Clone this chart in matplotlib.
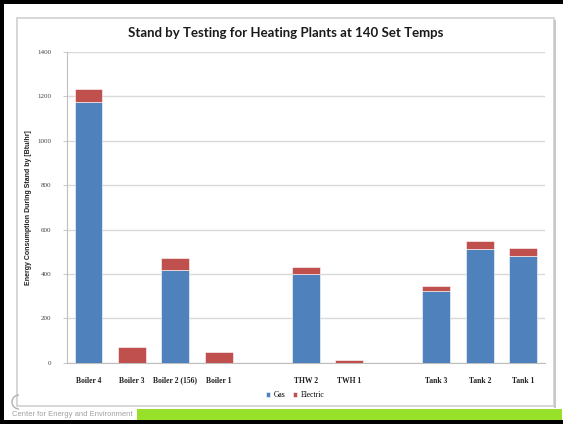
import numpy as np
import matplotlib
matplotlib.use("Agg")
import matplotlib.pyplot as plt
from matplotlib.patches import Rectangle, Arc

# Data
categories = ["Boiler 4", "Boiler 3", "Boiler 2 (156)", "Boiler 1", "",
              "THW 2", "TWH 1", "", "Tank 3", "Tank 2", "Tank 1"]
gas = [1174, 0, 418, 0, 0, 400, 0, 0, 324, 513, 480]
electric = [58, 70, 54, 50, 0, 30, 13, 0, 20, 36, 38]
y_ticks = [0, 200, 400, 600, 800, 1000, 1200, 1400]

title = "Stand by Testing for Heating Plants at 140 Set Temps"
ylabel = "Energy Consumption During Stand by [Btu/hr]"
footer = "Center for Energy and Environment"

gas_color = "#4F81BD"
elec_color = "#C0504D"

fig = plt.figure(figsize=(5.63, 4.24), dpi=100)
fig.patch.set_facecolor("white")

# slide frame: black border pieces, inner chart box, green footer bar
W, H = 563, 424
def px(x, y, w, h):
    return (x / W, 1 - (y + h) / H, w / W, h / H)

for (x, y, w, h), c in [
    ((0, 0, 563, 4), "black"),
    ((0, 0, 4, 424), "black"),
    ((0, 420, 563, 4), "black"),
    ((137, 409, 425, 11), "#97E12B"),
]:
    fx, fy, fw, fh = px(x, y, w, h)
    fig.patches.append(Rectangle((fx, fy), fw, fh, transform=fig.transFigure,
                                 facecolor=c, edgecolor="none", zorder=-2))

fx, fy, fw, fh = px(17, 18, 537, 388)
fig.patches.append(Rectangle((fx, fy), fw, fh, transform=fig.transFigure,
                             facecolor="white", edgecolor="#D0D0D0",
                             linewidth=1.2, zorder=-2))
fx, fy, fw, fh = px(554, 20, 2, 388)
fig.patches.append(Rectangle((fx, fy), fw, fh, transform=fig.transFigure,
                             facecolor="#C8C8C8", edgecolor="none", zorder=-2))

# logo fragment
fig.patches.append(Arc((19 / W, 1 - 402 / H), 14 / W, 14 / H, theta1=90, theta2=270,
                       transform=fig.transFigure, color="#B0B0B0", linewidth=1.0,
                       zorder=-1))

fig.text(12 / W, 1 - 414 / H, footer, fontsize=5.5, color="#A0A0A0",
         family="Liberation Sans", va="center", ha="left")

ax = fig.add_axes([66.7 / W, 1 - 362.7 / H, (545 - 66.7) / W, (362.7 - 52) / H])
ax.set_facecolor("none")
x = np.arange(len(categories))
width = 0.64
ax.bar(x, gas, width, color=gas_color, edgecolor="white", linewidth=0.4,
       label="Gas", zorder=3)
ax.bar(x, electric, width, bottom=gas, color=elec_color, edgecolor="white",
       linewidth=0.4, label="Electric", zorder=3)

ax.set_xlim(-0.5, len(categories) - 0.5)
ax.set_ylim(0, 1400)
ax.set_yticks(y_ticks)
ax.set_yticklabels([str(t) for t in y_ticks], fontsize=5, family="Liberation Serif",
                   color="#404040")
ax.set_xticks(x)
ax.set_xticklabels(categories, fontsize=5.5, family="Liberation Serif",
                   fontweight="bold", color="#202020")
ax.tick_params(axis="x", length=0, pad=10)
ax.tick_params(axis="y", length=3, width=0.6, color="#BFBFBF", pad=8)
ax.grid(axis="y", color="#D9D9D9", linewidth=1.0, zorder=0)
for s in ["top", "right"]:
    ax.spines[s].set_visible(False)
ax.spines["left"].set_color("#BFBFBF")
ax.spines["bottom"].set_color("#BFBFBF")
ax.spines["left"].set_linewidth(0.8)
ax.spines["bottom"].set_linewidth(0.8)

ax.set_ylabel(ylabel, fontsize=5, fontweight="bold", family="Liberation Sans",
              labelpad=8, color="#202020")
ax.yaxis.set_label_coords(-0.072, 0.5)

fig.text(286 / W, 1 - 33 / H, title, fontsize=9.5, fontweight="bold",
         family="Lato", ha="center", va="center", color="#1a1a1a")

ax.legend(loc="center", bbox_to_anchor=(295 / W, 1 - 395 / H),
          bbox_transform=fig.transFigure, ncol=2, frameon=False,
          prop={"family": "Liberation Serif", "size": 5.5},
          handlelength=0.6, handleheight=0.6, handletextpad=0.4,
          columnspacing=1.0)

fig.savefig("out.png", dpi=100)
